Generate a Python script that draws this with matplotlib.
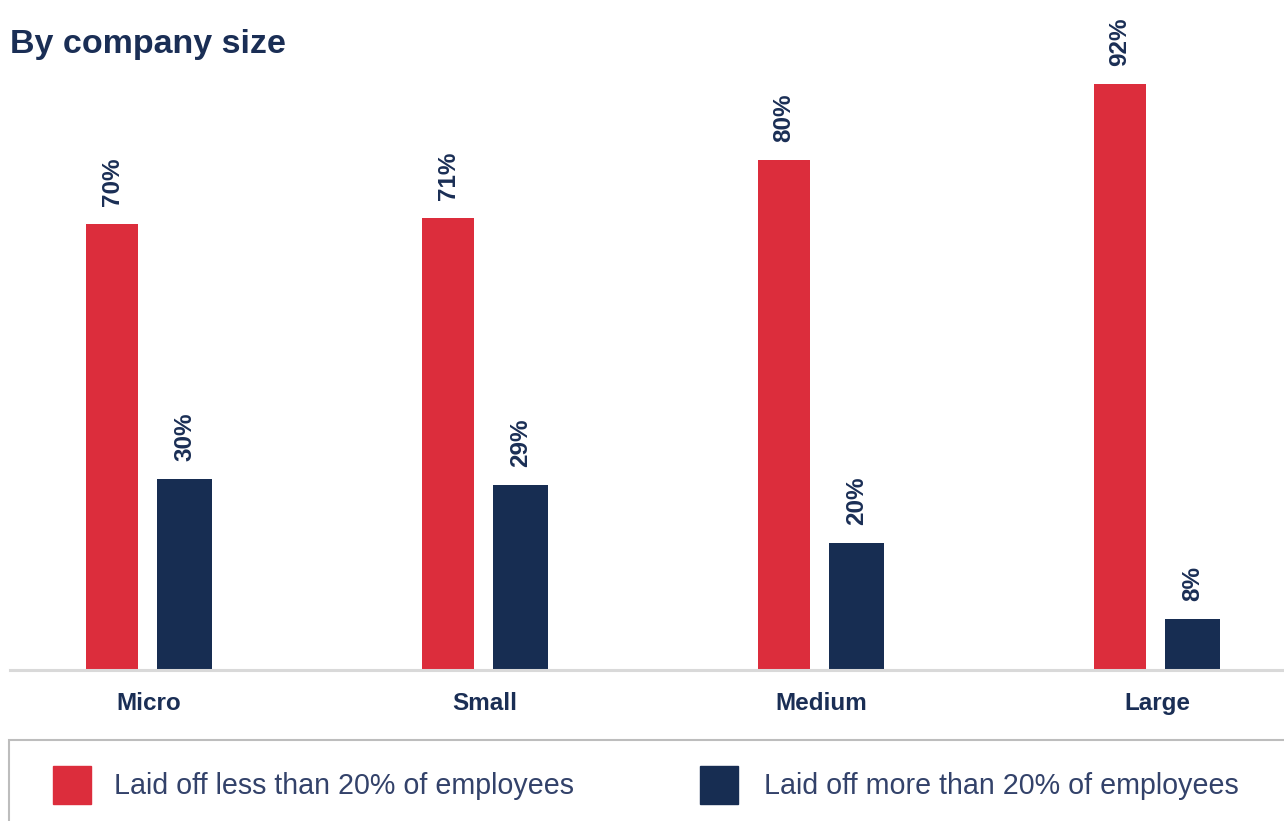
import matplotlib.pyplot as plt
import matplotlib.patches as mpatches
import numpy as np

plt.rcParams['font.family'] = ['Liberation Sans', 'DejaVu Sans']

categories = ['Micro', 'Small', 'Medium', 'Large']
less_20 = [70, 71, 80, 92]
more_20 = [30, 29, 20, 8]
series_names = ['Laid off less than 20% of employees', 'Laid off more than 20% of employees']

red = '#DC2D3C'
navy = '#172D52'
text_navy = '#1A2E55'

W, H = 1284, 821
fig = plt.figure(figsize=(W / 100, H / 100), dpi=100)

# axes placed in pixel terms
ax = fig.add_axes([10 / W, 151 / H, 1274 / W, 670 / H])
x = np.arange(len(categories))
ax.bar(x - 0.110, less_20, width=0.155, color=red)
ax.bar(x + 0.106, more_20, width=0.164, color=navy)

for xi, v in zip(x - 0.110, less_20):
    ax.annotate(f'{v}%', (xi, v), xytext=(0, 13), textcoords='offset points',
                rotation=90, ha='center', va='bottom', fontsize=17.5,
                fontweight='bold', color=text_navy)
for xi, v in zip(x + 0.106, more_20):
    ax.annotate(f'{v}%', (xi, v), xytext=(0, 13), textcoords='offset points',
                rotation=90, ha='center', va='bottom', fontsize=17.5,
                fontweight='bold', color=text_navy)

ax.set_xlim(-0.414, 3.378)
ax.set_ylim(0, 105.2)
ax.set_xticks(x)
ax.set_xticklabels(categories, fontsize=17.5, fontweight='bold', color=text_navy)
ax.tick_params(axis='x', length=0, pad=16)
ax.set_yticks([])
for s in ['top', 'left', 'right']:
    ax.spines[s].set_visible(False)
ax.spines['bottom'].set_color('#D9D9D9')
ax.spines['bottom'].set_linewidth(2.2)

fig.text(10 / W, 1 - 53 / H, 'By company size', fontsize=24.5, fontweight='bold',
         color=text_navy, va='baseline', ha='left')

# legend box running off the right and bottom edges
box = mpatches.Rectangle((9 / W, -0.05), 1.1, (H - 740) / H + 0.05,
                         transform=fig.transFigure, fill=False,
                         edgecolor='#BDBDBD', linewidth=1.5)
fig.add_artist(box)

for sx, tx, col, name in [(53, 114, red, series_names[0]), (700, 764, navy, series_names[1])]:
    fig.add_artist(mpatches.Rectangle((sx / W, 1 - 804 / H), 38 / W, 38 / H,
                                      transform=fig.transFigure, color=col))
    fig.text(tx / W, 1 - 786 / H, name, fontsize=20.6, color='#33426A',
             va='center', ha='left')

fig.savefig('out.png', dpi=100)
